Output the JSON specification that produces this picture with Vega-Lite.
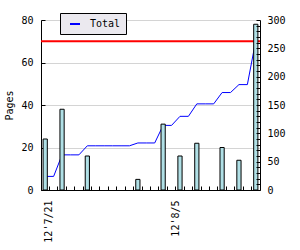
{
  "$schema": "https://vega.github.io/schema/vega-lite/v6.json",
  "autosize": {"type": "none"},
  "width": 219,
  "height": 170,
  "padding": {"left": 41, "top": 20, "right": 40, "bottom": 60},
  "background": "white",
  "config": {
    "view": {"stroke": null},
    "axis": {
      "labelFont": "DejaVu Sans Mono",
      "labelFontSize": 10,
      "labelColor": "black",
      "titleFont": "DejaVu Sans Mono",
      "titleFontSize": 10,
      "titleFontWeight": "normal",
      "titleColor": "black",
      "domainColor": "black",
      "tickColor": "black"
    }
  },
  "data": {
    "values": [
      {"date": "2012-07-21", "pages": 24, "total": 24},
      {"date": "2012-07-22", "pages": 0, "total": 24},
      {"date": "2012-07-23", "pages": 38, "total": 62},
      {"date": "2012-07-24", "pages": 0, "total": 62},
      {"date": "2012-07-25", "pages": 0, "total": 62},
      {"date": "2012-07-26", "pages": 16, "total": 78},
      {"date": "2012-07-27", "pages": 0, "total": 78},
      {"date": "2012-07-28", "pages": 0, "total": 78},
      {"date": "2012-07-29", "pages": 0, "total": 78},
      {"date": "2012-07-30", "pages": 0, "total": 78},
      {"date": "2012-07-31", "pages": 0, "total": 78},
      {"date": "2012-08-01", "pages": 5, "total": 83},
      {"date": "2012-08-02", "pages": 0, "total": 83},
      {"date": "2012-08-03", "pages": 0, "total": 83},
      {"date": "2012-08-04", "pages": 31, "total": 114},
      {"date": "2012-08-05", "pages": 0, "total": 114},
      {"date": "2012-08-06", "pages": 16, "total": 130},
      {"date": "2012-08-07", "pages": 0, "total": 130},
      {"date": "2012-08-08", "pages": 22, "total": 152},
      {"date": "2012-08-09", "pages": 0, "total": 152},
      {"date": "2012-08-10", "pages": 0, "total": 152},
      {"date": "2012-08-11", "pages": 20, "total": 172},
      {"date": "2012-08-12", "pages": 0, "total": 172},
      {"date": "2012-08-13", "pages": 14, "total": 186},
      {"date": "2012-08-14", "pages": 0, "total": 186},
      {"date": "2012-08-15", "pages": 78, "total": 264}
    ]
  },
  "layer": [
    {
      "mark": {"type": "line", "color": "#0000ff", "strokeWidth": 1},
      "encoding": {
        "x": {
          "field": "date", "type": "ordinal",
          "scale": {"paddingInner": 0, "paddingOuter": 0},
          "axis": {
            "title": null, "bandPosition": 0, "labelAngle": -90, "labelOffset": 4,
            "labelExpr": "datum.value == '2012-07-21' ? \"12'7/21\" : datum.value == '2012-08-05' ? \"12'8/5\" : ''",
            "tickSize": -4, "labelPadding": 14, "grid": false
          }
        },
        "y": {
          "field": "total", "type": "quantitative",
          "scale": {"domain": [0, 300]},
          "axis": {
            "orient": "right", "title": null,
            "values": [0,10,20,30,40,50,60,70,80,90,100,110,120,130,140,150,160,170,180,190,200,210,220,230,240,250,260,270,280,290,300],
            "labelExpr": "datum.value % 50 == 0 ? datum.label : ''",
            "grid": false, "tickSize": -4, "labelPadding": 11, "zindex": 1
          }
        },
        "color": {
          "datum": "Total",
          "scale": {"range": ["#0000ff"]},
          "legend": {
            "orient": "none", "legendX": 19, "legendY": -7, "title": null,
            "symbolType": "stroke", "symbolStrokeWidth": 2, "symbolSize": 100,
            "fillColor": "#ebe9ef", "strokeColor": "black", "padding": 5,
            "symbolOffset": 4, "labelOffset": 9,
            "labelFont": "DejaVu Sans Mono", "labelFontSize": 10, "labelColor": "black"
          }
        }
      }
    },
    {
      "layer": [
        {
          "data": {"values": [{"target": 70}]},
          "mark": {"type": "rule", "color": "#ff0000", "strokeWidth": 2},
          "encoding": {"y": {"field": "target", "type": "quantitative"}}
        },
        {
          "transform": [{"filter": "datum.pages > 0"}],
          "mark": {"type": "bar", "fill": "#b0e0e6", "stroke": "black", "strokeWidth": 1, "width": {"band": 0.5}},
          "encoding": {
            "x": {
              "field": "date", "type": "ordinal",
              "scale": {"paddingInner": 0, "paddingOuter": 0},
              "axis": {
                "title": null, "bandPosition": 0, "labelAngle": -90, "labelOffset": 4,
                "labelExpr": "datum.value == '2012-07-21' ? \"12'7/21\" : datum.value == '2012-08-05' ? \"12'8/5\" : ''",
                "tickSize": -4, "labelPadding": 14, "grid": false
              }
            },
            "y": {
              "field": "pages", "type": "quantitative",
              "scale": {"domain": [0, 80]},
              "axis": {
                "orient": "left", "title": "Pages",
                "values": [0,10,20,30,40,50,60,70,80],
                "labelExpr": "datum.value % 20 == 0 ? datum.label : ''",
                "grid": true, "gridColor": "#d4d4d4",
                "gridOpacity": {"condition": {"test": "datum.value % 20 == 0", "value": 1}, "value": 0},
                "tickSize": -4, "labelPadding": 12, "titlePadding": 6
              }
            }
          }
        }
      ]
    }
  ],
  "resolve": {"scale": {"y": "independent"}}
}
